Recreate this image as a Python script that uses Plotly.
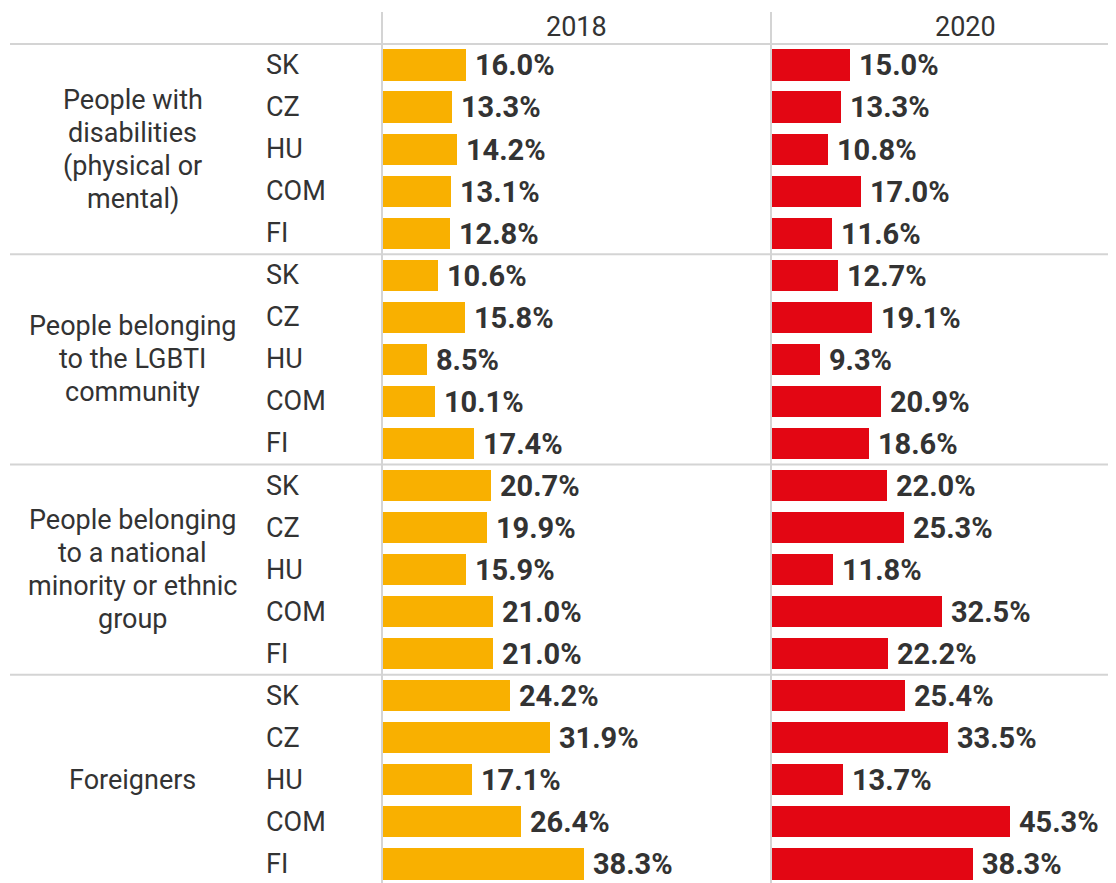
import plotly.graph_objects as go

groups = [["People with", "disabilities", "(physical or", "mental)"],
          ["People belonging", "to the LGBTI", "community"],
          ["People belonging", "to a national", "minority or ethnic", "group"],
          ["Foreigners"]]
countries = ["SK", "CZ", "HU", "COM", "FI"]
years = ["2018", "2020"]
values_2018 = [16.0, 13.3, 14.2, 13.1, 12.8,
               10.6, 15.8, 8.5, 10.1, 17.4,
               20.7, 19.9, 15.9, 21.0, 21.0,
               24.2, 31.9, 17.1, 26.4, 38.3]
values_2020 = [15.0, 13.3, 10.8, 17.0, 11.6,
               12.7, 19.1, 9.3, 20.9, 18.6,
               22.0, 25.3, 11.8, 32.5, 22.2,
               25.4, 33.5, 13.7, 45.3, 38.3]

# page has an 8px body margin; figure coordinates = page coordinates - 8
OFF = 8
W, H = 1116 - OFF, 883 - OFF
FONT = "Roboto"
TXT = "#333333"
YELLOW = "#F9B000"
RED = "#E30613"
GRID = "#d4d4d4"
REG = 27
BOLD = 29

n = len(groups) * len(countries)
rows = list(range(n))
row_labels = [c for _ in groups for c in countries]

fig = go.Figure()
for vals, col, xa in ((values_2018, YELLOW, "x"), (values_2020, RED, "x2")):
    fig.add_trace(go.Bar(x=vals, y=rows, orientation="h", xaxis=xa, yaxis="y",
                         marker=dict(color=col, line=dict(width=0)), width=0.74,
                         texttemplate="\u2009%{x:.1f}%", textposition="outside",
                         cliponaxis=False, constraintext="none",
                         textfont=dict(family=FONT, size=BOLD, color=TXT, weight="bold"),
                         hoverinfo="skip", showlegend=False))

px_per_unit = 5.275
x1l, x1r = 382 - OFF, 771 - OFF
x2l = 771 - OFF
panel_w = x1r - x1l
row0, step = 65 - OFF, 42.05

fig.update_layout(
    width=W, height=H, margin=dict(l=0, r=0, t=0, b=0),
    paper_bgcolor="white", plot_bgcolor="white",
    font=dict(family=FONT, color=TXT, size=REG),
    xaxis=dict(domain=[x1l / W, x1r / W], range=[0, panel_w / px_per_unit],
               visible=False, fixedrange=True),
    xaxis2=dict(domain=[x2l / W, 1], range=[0, (W - x2l) / px_per_unit],
                visible=False, fixedrange=True),
    yaxis=dict(range=[(H - row0) / step, -row0 / step], visible=False, fixedrange=True),
    bargap=0,
)

shapes = []
for g in range(len(groups)):
    yv = g * len(countries) - 0.5
    shapes.append(dict(type="line", xref="paper", yref="y", x0=(10 - OFF) / W, x1=1,
                       y0=yv, y1=yv, line=dict(color=GRID, width=2)))
for xp in (x1l, x2l):
    shapes.append(dict(type="line", xref="paper", yref="paper", x0=xp / W, x1=xp / W,
                       y0=0, y1=(H - (12 - OFF)) / H, line=dict(color=GRID, width=2)))
fig.update_layout(shapes=shapes)

ann = []
for yr, cx in zip(years, [x1l + panel_w / 2, x2l + panel_w / 2]):
    ann.append(dict(text=yr, x=cx / W, y=1 - (27 - OFF) / H, xref="paper", yref="paper",
                    xanchor="center", yanchor="middle", showarrow=False,
                    font=dict(family=FONT, size=REG, color=TXT)))
for i, lab in enumerate(row_labels):
    ann.append(dict(text=lab, x=(264 - OFF) / W, y=i, xref="paper", yref="y",
                    xanchor="left", yanchor="middle", showarrow=False,
                    font=dict(family=FONT, size=REG, color=TXT)))
line_gap = 33 / step
for g, lines in enumerate(groups):
    center = g * len(countries) + 2
    k = len(lines)
    for j, ln in enumerate(lines):
        yv = center + (j - (k - 1) / 2) * line_gap
        ann.append(dict(text=ln, x=(133 - OFF) / W, y=yv, xref="paper", yref="y",
                        xanchor="center", yanchor="middle", showarrow=False,
                        font=dict(family=FONT, size=REG, color=TXT)))
fig.update_layout(annotations=ann)

fig.write_html("out.html")
